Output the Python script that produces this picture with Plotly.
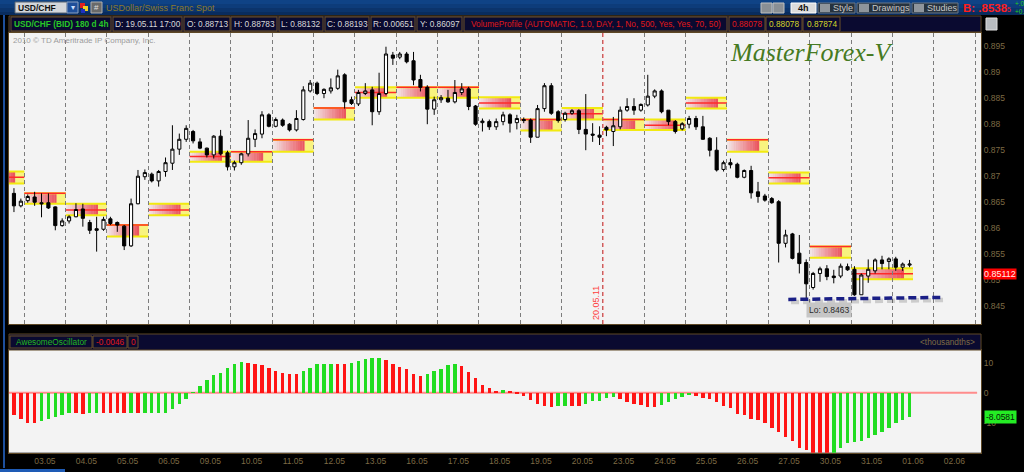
import plotly.graph_objects as go

W, H = 1024, 472

# ---------------- data ----------------
days = ["03.05", "04.05", "05.05", "06.05", "09.05", "10.05", "11.05", "12.05", "13.05",
        "16.05", "17.05", "18.05", "19.05", "20.05", "23.05", "24.05", "25.05", "26.05",
        "27.05", "30.05", "31.05", "01.06", "02.06"]
bars_per_day = 6
lead_bars = 2  # 4h bars of 02.05 visible before 03.05

bar_open = [
    0.8666, 0.8642, 0.8652, 0.8659, 0.8648, 0.8648, 0.8640, 0.8604, 0.8613, 0.8621,
    0.8636, 0.8610, 0.8598, 0.8597, 0.8617, 0.8610, 0.8603, 0.8565, 0.8646, 0.8698,
    0.8703, 0.8690, 0.8708, 0.8724, 0.8751, 0.8770, 0.8785, 0.8765, 0.8753, 0.8740,
    0.8776, 0.8744, 0.8717, 0.8725, 0.8742, 0.8770, 0.8780, 0.8817, 0.8795, 0.8807,
    0.8799, 0.8788, 0.8808, 0.8863, 0.8878, 0.8858, 0.8863, 0.8868, 0.8894, 0.8846,
    0.8838, 0.8858, 0.8865, 0.8823, 0.8858, 0.8932, 0.8928, 0.8934, 0.8921, 0.8885,
    0.8870, 0.8828, 0.8846, 0.8849, 0.8842, 0.8860, 0.8867, 0.8834, 0.8802, 0.8804,
    0.8794, 0.8804, 0.8817, 0.8802, 0.8808, 0.8807, 0.8774, 0.8829, 0.8873, 0.8823,
    0.8808, 0.8820, 0.8825, 0.8789, 0.8780, 0.8778, 0.8793, 0.8785, 0.8794, 0.8826,
    0.8833, 0.8826, 0.8836, 0.8853, 0.8863, 0.8826, 0.8804, 0.8790, 0.8799, 0.8810,
    0.8794, 0.8772, 0.8749, 0.8712, 0.8725, 0.8722, 0.8697, 0.8710, 0.8669, 0.8661,
    0.8656, 0.8650, 0.8570, 0.8588, 0.8551, 0.8533, 0.8485, 0.8512, 0.8521, 0.8507,
    0.8507, 0.8525, 0.8520, 0.8471, 0.8507, 0.8517, 0.8538, 0.8535, 0.8540, 0.8524,
    0.8528]
bar_high = [
    0.8676, 0.8656, 0.8664, 0.8669, 0.8666, 0.8666, 0.8641, 0.8618, 0.8624, 0.8647,
    0.8646, 0.8615, 0.8621, 0.8621, 0.8621, 0.8612, 0.8605, 0.8656, 0.8711, 0.8712,
    0.8706, 0.8711, 0.8735, 0.8797, 0.8781, 0.8797, 0.8788, 0.8772, 0.8754, 0.8778,
    0.8788, 0.8748, 0.8729, 0.8744, 0.8807, 0.8789, 0.8824, 0.8820, 0.8812, 0.8810,
    0.8801, 0.8826, 0.8872, 0.8884, 0.8881, 0.8868, 0.8887, 0.8904, 0.8897, 0.8852,
    0.8865, 0.8878, 0.8871, 0.8898, 0.8948, 0.8938, 0.8938, 0.8938, 0.8938, 0.8894,
    0.8874, 0.8852, 0.8855, 0.8865, 0.8884, 0.8878, 0.8871, 0.8836, 0.8810, 0.8808,
    0.8810, 0.8823, 0.8820, 0.8817, 0.8812, 0.8810, 0.8836, 0.8878, 0.8878, 0.8826,
    0.8823, 0.8828, 0.8828, 0.8857, 0.8801, 0.8795, 0.8796, 0.8813, 0.8833, 0.8849,
    0.8849, 0.8839, 0.8894, 0.8866, 0.8866, 0.8826, 0.8807, 0.8803, 0.8815, 0.8815,
    0.8815, 0.8774, 0.8774, 0.8729, 0.8733, 0.8725, 0.8712, 0.8719, 0.8688, 0.8665,
    0.8659, 0.8653, 0.8596, 0.8590, 0.8586, 0.8539, 0.8515, 0.8525, 0.8528, 0.8519,
    0.8531, 0.8531, 0.8526, 0.8512, 0.8539, 0.8541, 0.8546, 0.8543, 0.8544, 0.8533,
    0.8538]
bar_low = [
    0.8630, 0.8639, 0.8648, 0.8642, 0.8620, 0.8636, 0.8595, 0.8602, 0.8608, 0.8620,
    0.8602, 0.8588, 0.8554, 0.8594, 0.8605, 0.8592, 0.8557, 0.8563, 0.8645, 0.8692,
    0.8687, 0.8679, 0.8698, 0.8711, 0.8740, 0.8765, 0.8762, 0.8751, 0.8735, 0.8733,
    0.8739, 0.8710, 0.8710, 0.8721, 0.8737, 0.8755, 0.8772, 0.8793, 0.8793, 0.8794,
    0.8785, 0.8785, 0.8806, 0.8860, 0.8855, 0.8849, 0.8858, 0.8865, 0.8829, 0.8836,
    0.8834, 0.8855, 0.8797, 0.8817, 0.8855, 0.8913, 0.8924, 0.8916, 0.8874, 0.8862,
    0.8799, 0.8817, 0.8840, 0.8840, 0.8839, 0.8855, 0.8826, 0.8796, 0.8785, 0.8788,
    0.8788, 0.8797, 0.8783, 0.8789, 0.8801, 0.8763, 0.8774, 0.8823, 0.8817, 0.8802,
    0.8804, 0.8817, 0.8780, 0.8749, 0.8765, 0.8759, 0.8776, 0.8757, 0.8789, 0.8823,
    0.8817, 0.8823, 0.8833, 0.8849, 0.8820, 0.8797, 0.8781, 0.8787, 0.8791, 0.8788,
    0.8769, 0.8737, 0.8708, 0.8708, 0.8714, 0.8695, 0.8695, 0.8656, 0.8648, 0.8650,
    0.8646, 0.8533, 0.8562, 0.8539, 0.8512, 0.8463, 0.8481, 0.8496, 0.8499, 0.8493,
    0.8503, 0.8517, 0.8469, 0.8471, 0.8494, 0.8512, 0.8520, 0.8520, 0.8517, 0.8517,
    0.8524]
bar_close = [
    0.8642, 0.8651, 0.8660, 0.8649, 0.8646, 0.8638, 0.8604, 0.8613, 0.8621, 0.8635,
    0.8618, 0.8595, 0.8595, 0.8616, 0.8608, 0.8605, 0.8565, 0.8646, 0.8699, 0.8706,
    0.8690, 0.8708, 0.8725, 0.8751, 0.8770, 0.8791, 0.8767, 0.8753, 0.8740, 0.8776,
    0.8742, 0.8717, 0.8725, 0.8742, 0.8772, 0.8781, 0.8817, 0.8795, 0.8808, 0.8797,
    0.8788, 0.8810, 0.8865, 0.8878, 0.8858, 0.8866, 0.8869, 0.8892, 0.8842, 0.8839,
    0.8860, 0.8863, 0.8823, 0.8858, 0.8934, 0.8926, 0.8934, 0.8919, 0.8884, 0.8870,
    0.8828, 0.8846, 0.8850, 0.8842, 0.8860, 0.8867, 0.8833, 0.8799, 0.8805, 0.8794,
    0.8804, 0.8817, 0.8801, 0.8810, 0.8806, 0.8774, 0.8829, 0.8873, 0.8820, 0.8806,
    0.8820, 0.8825, 0.8789, 0.8780, 0.8778, 0.8774, 0.8788, 0.8796, 0.8826, 0.8833,
    0.8826, 0.8837, 0.8853, 0.8863, 0.8823, 0.8804, 0.8785, 0.8800, 0.8810, 0.8794,
    0.8770, 0.8749, 0.8711, 0.8725, 0.8721, 0.8697, 0.8710, 0.8667, 0.8660, 0.8653,
    0.8648, 0.8570, 0.8586, 0.8541, 0.8531, 0.8492, 0.8512, 0.8521, 0.8506, 0.8504,
    0.8526, 0.8519, 0.8471, 0.8509, 0.8520, 0.8538, 0.8531, 0.8540, 0.8524, 0.8530,
    0.8530]

# Awesome Oscillator (thousandths) and bar colours (g = rising, r = falling)
ao_values = [
    -7.4, -8.8, -10.0, -10.0, -9.3, -8.6, -8.0, -7.4, -6.9, -6.9,
    -7.2, -6.7, -6.7, -6.9, -6.9, -6.9, -6.9, -6.8, -6.9, -6.9,
    -6.9, -6.9, -6.6, -5.4, -3.9, -2.1, 0.2, 2.2, 4.2, 5.9,
    6.4, 8.1, 9.4, 10.1, 9.9, 9.7, 9.1, 8.1, 7.1, 6.6,
    6.3, 6.1, 7.1, 8.3, 9.4, 9.7, 9.7, 9.4, 9.4, 9.9,
    10.6, 11.1, 11.4, 11.4, 10.8, 9.4, 8.4, 7.8, 6.1, 5.6,
    6.1, 7.1, 7.8, 9.2, 9.4, 8.9, 6.9, 4.9, 2.7, 1.4,
    0.7, 0.9, 0.7, -0.2, -1.1, -2.6, -3.8, -4.4, -4.6, -4.4,
    -4.3, -4.4, -4.4, -3.8, -2.9, -2.7, -1.9, -1.3, -2.1, -3.0,
    -3.6, -4.1, -4.6, -4.7, -4.1, -3.2, -2.2, -1.6, -0.8, -1.0,
    -1.7, -2.1, -3.0, -4.4, -5.2, -7.1, -7.4, -8.6, -9.1, -10.0,
    -11.9, -13.2, -14.7, -16.0, -18.3, -19.1, -20.5, -21.2, -21.5, -20.6,
    -18.3, -16.9, -16.3, -16.0, -15.0, -14.1, -13.2, -11.9, -10.0, -9.0, -8.0581]
ao_dir = ("rrrrgggggr" "rggrrrrgrg" "gggggggggg" "ggggrrrrrr" "rrgggggrrg"
          "ggggrrrrrr" "gggggrrrrr" "rgrrrrrrrg" "grrgggggrr" "rrrrgggggr"
          "rrrrrrrrrr" "rrrrrrrrrg" "ggggggggggg")

# Volume profile per day: 02.05 ... 31.05 (value-area high / low, point of control)
vp_days = ["02.05"] + days[:21]
vp_high = [0.8708, 0.8666, 0.8646, 0.8605, 0.8646, 0.8746, 0.8746, 0.8769, 0.8830, 0.8870, 0.8870,
           0.8870, 0.8851, 0.8808, 0.8830, 0.8808, 0.8808, 0.8850, 0.8769, 0.8706, 0.8564, 0.8522]
vp_low = [0.8685, 0.8646, 0.8624, 0.8583, 0.8624, 0.8727, 0.8727, 0.8746, 0.8808, 0.8850, 0.8850,
          0.8850, 0.8829, 0.8787, 0.8808, 0.8788, 0.8788, 0.8829, 0.8746, 0.8685, 0.8542, 0.8501]
vp_poc = [0.8697, 0.8666, 0.8634, 0.8605, 0.8634, 0.8737, 0.8746, 0.8769, 0.8830, 0.8860, 0.8870,
          0.8870, 0.8840, 0.8808, 0.8819, 0.8808, 0.8797, 0.8840, 0.8769, 0.8696, 0.8564, 0.85112]

# user-drawn support line (bar index, price)
trend_x = [112.4, 134.7]
trend_y = [0.8462, 0.8466]

price_ticks = [0.845, 0.85, 0.855, 0.86, 0.865, 0.87, 0.875, 0.88, 0.885, 0.89, 0.895]
price_labels = ["0.845", "0.85", "0.855", "0.86", "0.865", "0.87", "0.875", "0.88", "0.885", "0.89", "0.895"]
ao_ticks = [10, 0, -10]
ao_labels = ["10", "0", "-10"]

# ---------------- derived ----------------
n = len(bar_open)
xs = list(range(n))
boundaries = [lead_bars - 0.5 + bars_per_day * k for k in range(len(days) + 1)]
centers = [b + bars_per_day / 2 for b in boundaries[:-1]]
vp_start = [boundaries[0] - bars_per_day] + boundaries[:21]
vp_end = boundaries[:21] + [n - 0.5]
marker_line_day = days.index("23.05")

FONT = "Liberation Sans, Arial, sans-serif"
TAN = "#7d6a44"
BORDER = "#5e4826"


def X(p):
    return p / W


def Y(p):
    return 1 - p / H


shapes = []
annotations = []


def prect(x0, y0, x1, y1, fill, line=None, lw=1):
    shapes.append(dict(type="rect", xref="paper", yref="paper", x0=X(x0), x1=X(x1),
                       y0=Y(y1), y1=Y(y0), fillcolor=fill,
                       line=dict(color=line if line else fill, width=lw if line else 0),
                       layer="above"))


def ptext(x, y, text, color, size=8.5, anchor="left", bold=False, family=FONT):
    annotations.append(dict(xref="paper", yref="paper", x=X(x), y=Y(y),
                            text=f"<b>{text}</b>" if bold else text, showarrow=False,
                            xanchor=anchor, yanchor="middle", borderpad=0,
                            font=dict(family=family, size=size, color=color)))


# ---- volume profile boxes (drawn below candles) ----
yellow_w = 1.3
n_sl = 14
for x0, x1, hi, lo, poc in zip(vp_start, vp_end, vp_high, vp_low, vp_poc):
    xg = x1 - yellow_w
    step = (xg - x0) / n_sl
    for k in range(n_sl):
        a = 0.04 + 0.80 * (k + 0.5) / n_sl
        shapes.append(dict(type="rect", xref="x", yref="y", x0=x0 + k * step, x1=x0 + (k + 1) * step + 0.02,
                           y0=lo, y1=hi, fillcolor=f"rgba(232,48,60,{a:.3f})",
                           line=dict(width=0), layer="below"))
    shapes.append(dict(type="rect", xref="x", yref="y", x0=xg, x1=x1, y0=lo, y1=hi,
                       fillcolor="rgba(248,242,120,0.95)", line=dict(width=0), layer="below"))
    for yy in (hi, lo):
        shapes.append(dict(type="line", xref="x", yref="y", x0=x0, x1=x1, y0=yy, y1=yy,
                           line=dict(color="#f2ea10", width=2), layer="below"))
    shapes.append(dict(type="line", xref="x", yref="y", x0=x0, x1=x1, y0=poc, y1=poc,
                       line=dict(color="#ff2a2a", width=1.5), layer="below"))

# red session marker line
shapes.append(dict(type="line", xref="x", yref="y domain", x0=boundaries[marker_line_day],
                   x1=boundaries[marker_line_day], y0=0, y1=1,
                   line=dict(color="#ff4a4a", width=1, dash="4px,3px"), layer="above"))
annotations.append(dict(xref="x", yref="y domain", x=boundaries[marker_line_day], y=0.072,
                        text="20.05.11", textangle=-90, showarrow=False, xanchor="center",
                        yanchor="middle", xshift=-7,
                        font=dict(family=FONT, size=9, color="#ff3c3c")))

# zero line of oscillator
shapes.append(dict(type="line", xref="x2 domain", yref="y2", x0=0, x1=0.996, y0=0, y1=0,
                   line=dict(color="#ff8c8c", width=2), layer="below"))

# ---- page chrome ----
prect(0, 0, 1024, 4, "#0f4386")
prect(0, 4, 1024, 8, "#0d3c7a")
prect(0, 8, 1024, 12, "#0b346c")
prect(0, 12, 1024, 15, "#092c5e")
prect(3, 15, 5, 468, "#1d4f9c")
prect(0, 469, 65, 472, "#1e5bb5")

prect(15, 2, 67, 13, "#d3d6da", line="#5a6570")
ptext(17, 7.8, "USD/CHF", "#111111", size=8.5, bold=True)
prect(67, 2, 78, 13, "#1f4f9a", line="#8aa0c0")
ptext(72.5, 7.5, "▾", "#d0e0ff", size=8, anchor="center")
prect(80, 3, 85, 8, "#e02020")
prect(83, 6, 88, 11, "#f0d020")
prect(81, 9, 85, 13, "#2030c0")
prect(91, 2, 102, 13, "#6a6a6a", line="#b0b0b0")
ptext(96.5, 7.5, "#", "#e0e0e0", size=8, anchor="center")
ptext(105, 8, "USDollar/Swiss Franc Spot", "#8c7a2c", size=9)

prect(761, 3, 772, 13, "#8a8f95", line="#c0c0c0")
prect(773, 3, 784, 13, "#8a8f95", line="#c0c0c0")
prect(791, 3, 816, 13, "#dcdcdc", line="#ffffff")
ptext(803.5, 8, "4h", "#111111", size=9, anchor="center", bold=True)
for bx0, bx1, label in [(818, 855, "Style"), (857, 910, "Drawings"), (912, 958, "Studies")]:
    prect(bx0, 3, bx1, 13, "#26323e", line="#6a7888")
    prect(bx0 + 2, 4, bx0 + 12, 12, "#8e959c")
    ptext(bx0 + 14, 8, label, "#c8c8c8", size=9)
ptext(962, 8, "B: .8538", "#ff1e1e", size=11.5, bold=True)
ptext(1006, 10, "5", "#ff1e1e", size=7)
ptext(1014, 4, "+.0", "#20d020", size=6.5)
ptext(1014, 11, "+0.", "#20d020", size=6.5)

# header row with OHLC info
prect(9, 16, 981, 32, "#0a0a30", line=BORDER)
cells = [(11, 111, "USD/CHF (BID) 180 d 4h", "#27c727", True),
         (113, 182, "D: 19.05.11 17:00", "#d8d8d8", False),
         (184, 230, "O: 0.88713", "#d8d8d8", False),
         (231, 277, "H: 0.88783", "#d8d8d8", False),
         (279, 323, "L: 0.88132", "#d8d8d8", False),
         (325, 369, "C: 0.88193", "#d8d8d8", False),
         (371, 415, "R: 0.00651", "#d8d8d8", False),
         (417, 462, "Y: 0.86097", "#d8d8d8", False),
         (464, 727, "VolumeProfile (AUTOMATIC, 1.0, DAY, 1, No, 500, Yes, Yes, 70, 50)", "#e01818", False),
         (729, 765, "0.88078", "#e01818", False),
         (766, 802, "0.88078", "#d4d42a", False),
         (803, 840, "0.87874", "#d4d42a", False)]
for cx0, cx1, txt, col, bold in cells:
    prect(cx0, 17, cx1, 31, "#0a0a30", line="#6b5028")
    ptext((cx0 + cx1) / 2, 24, txt, col, size=8.3, anchor="center", bold=bold)
prect(986, 18, 997, 30, "#b8bcc0", line="#e0e0e0")

# oscillator header row
prect(9, 334, 981, 350, "#0a0a30", line=BORDER)
for cx0, cx1, txt, col in [(10, 92, "AwesomeOscillator", "#22b822"),
                           (93, 127, "-0.0046", "#e01818"),
                           (128, 138, "0", "#e01818")]:
    prect(cx0, 336, cx1, 348, "#0a0a30", line="#6b5028")
    ptext((cx0 + cx1) / 2, 342, txt, col, size=8.3, anchor="center")
ptext(976, 342, "&lt;thousandths&gt;", TAN, size=8.3, anchor="right")

# copyright and watermark
ptext(12, 41, "2010 © TD Ameritrade IP Company, Inc.", "#9c9c9c", size=8)
ptext(811, 52, "<i>MasterForex-V</i>", "#467a22", size=26, anchor="center",
      family="Liberation Serif, serif")

# value labels on the right scale
annotations.append(dict(xref="paper", yref="y", x=X(983), y=vp_poc[-1], text=f"{vp_poc[-1]:.5f}",
                        showarrow=False, xanchor="left", yanchor="middle", bgcolor="#ff0000",
                        borderpad=0, font=dict(family=FONT, size=9, color="#ffecec")))
annotations.append(dict(xref="paper", yref="y2", x=X(984), y=ao_values[-1], text=f"{ao_values[-1]:.4f}",
                        showarrow=False, xanchor="left", yanchor="middle", bgcolor="#24ec24",
                        borderpad=1, font=dict(family=FONT, size=8.5, color="#062006")))

# low label
lo_val = min(bar_low)
lo_idx = bar_low.index(lo_val)
annotations.append(dict(xref="x", yref="y", x=lo_idx, y=lo_val, text=f"Lo: {lo_val:.4f}",
                        showarrow=False, xanchor="left", yanchor="top", xshift=0, yshift=-3,
                        bgcolor="#c6c6c6", borderpad=2,
                        font=dict(family=FONT, size=8.5, color="#2a2a2a")))

# ---------------- traces ----------------
fig = go.Figure()

fig.add_trace(go.Candlestick(
    x=xs, open=bar_open, high=bar_high, low=bar_low, close=bar_close,
    increasing=dict(line=dict(color="#000000", width=1), fillcolor="#ffffff"),
    decreasing=dict(line=dict(color="#000000", width=1), fillcolor="#000000"),
    whiskerwidth=0, xaxis="x", yaxis="y", hoverinfo="skip", showlegend=False))

fig.add_trace(go.Scatter(
    x=[v + 0.4 for v in trend_x], y=[v - 0.0005 for v in trend_y], mode="lines",
    line=dict(color="rgba(0,0,0,0.16)", width=4.5, dash="8px,4px"),
    xaxis="x", yaxis="y", hoverinfo="skip", showlegend=False))
fig.add_trace(go.Scatter(
    x=trend_x, y=trend_y, mode="lines",
    line=dict(color="#1a1f86", width=3.5, dash="8px,4px"),
    xaxis="x", yaxis="y", hoverinfo="skip", showlegend=False))

fig.add_trace(go.Bar(
    x=xs, y=ao_values, width=0.5,
    marker=dict(color=["#21dd21" if c == "g" else "#ff1414" for c in ao_dir], line=dict(width=0)),
    xaxis="x2", yaxis="y2", hoverinfo="skip", showlegend=False))

x_range = [-0.72, 140.37]
axis_common = dict(showline=True, mirror=True, linecolor=BORDER, linewidth=1, zeroline=False,
                   fixedrange=True)

fig.update_layout(
    width=W, height=H, margin=dict(l=0, r=0, t=0, b=0),
    paper_bgcolor="#000000", plot_bgcolor="#f3f3f3",
    showlegend=False, boxgap=0.35, bargap=0,
    xaxis=dict(domain=[X(9), X(981)], range=x_range, anchor="y",
               tickvals=boundaries, showticklabels=False, ticks="",
               showgrid=True, gridcolor="#7c7c7c", griddash="4px,3px", gridwidth=1,
               rangeslider=dict(visible=False), **axis_common),
    yaxis=dict(domain=[Y(324), Y(33)], range=[0.84148, 0.89744], anchor="x", side="right",
               tickvals=price_ticks, ticktext=price_labels, ticks="", showgrid=False,
               tickfont=dict(family=FONT, size=8.5, color=TAN), **axis_common),
    xaxis2=dict(domain=[X(9), X(981)], range=x_range, anchor="y2",
                tickvals=centers, ticktext=days, ticks="", showgrid=False,
                tickfont=dict(family=FONT, size=8.5, color=TAN), **axis_common),
    yaxis2=dict(domain=[Y(452.7), Y(350)], range=[-20.0, 14.23], anchor="x2", side="right",
                tickvals=ao_ticks, ticktext=ao_labels, ticks="", showgrid=False,
                tickfont=dict(family=FONT, size=8.5, color=TAN), **axis_common),
    shapes=shapes, annotations=annotations,
)

# remove the browser's default page margin so the figure sits at the window origin
fig.write_html("out.html", config={"displayModeBar": False},
               post_script="document.body.style.margin='0';document.body.style.overflow='hidden';"
                           "document.body.style.background='#000';")
